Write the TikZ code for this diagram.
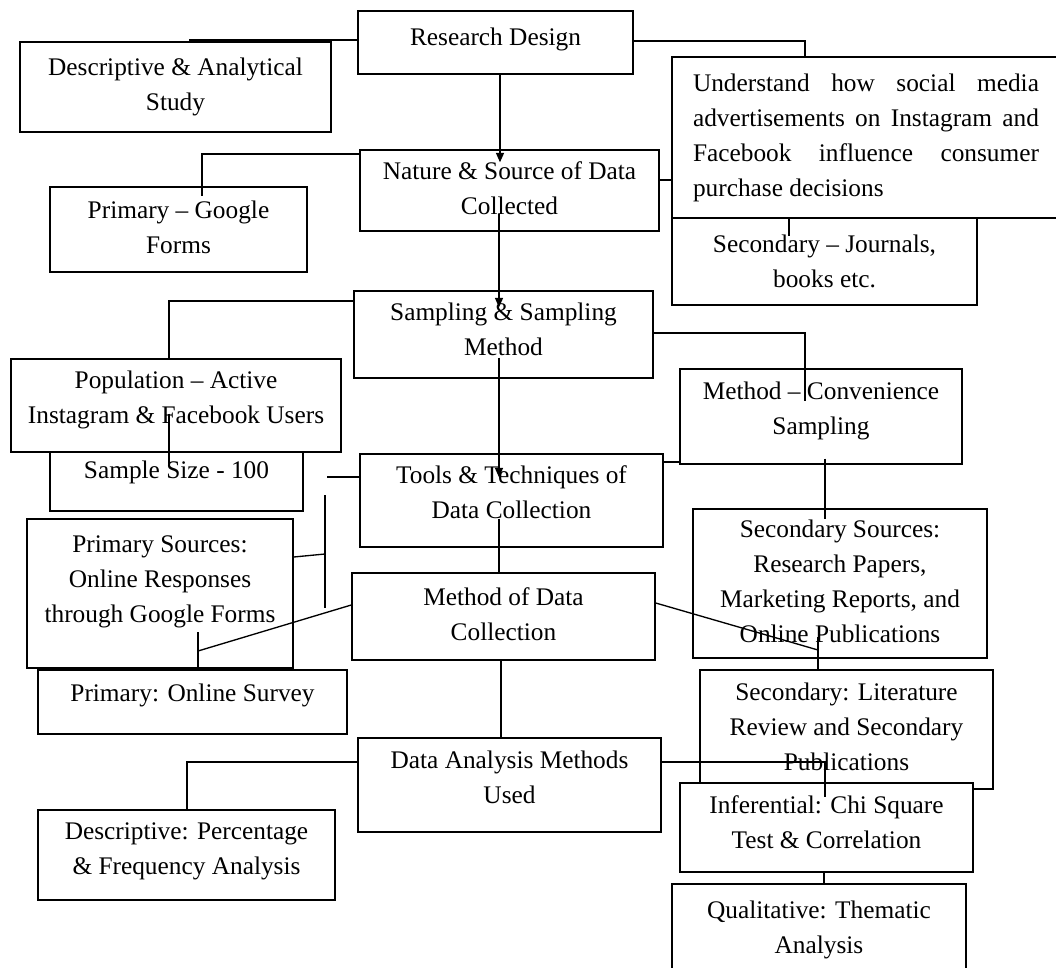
\documentclass[tikz,border=0pt]{standalone}
\usepackage{fontspec}
\setmainfont{Liberation Serif}
\usetikzlibrary{arrows.meta,calc}
\begin{document}
\begin{tikzpicture}[x=0.75pt,y=-0.75pt,
  box/.style={draw=black, line width=1.1pt, fill=white, inner sep=2pt, align=center,
    font=\fontsize{19}{26.25}\selectfont, text depth=4.1pt},
  conn/.style={draw=black, line width=1pt},
  arr/.style={conn, -{Triangle[length=7pt,width=6pt]}}]
\useasboundingbox (0,0) rectangle (1056,967);

% boxes
\node[box, minimum width=206.25pt, minimum height=47.25pt, text depth=9.4pt] (rd) at (495.5,42.5) {Research Design};
\node[box, minimum width=233.25pt, minimum height=67.5pt] (desc) at (175.5,87) {Descriptive \& Analytical\\Study};
\node[box, minimum width=224.25pt, minimum height=60.75pt] (nat) at (509.5,190.5) {Nature \& Source of Data\\Collected};
\node[box, minimum width=192.75pt, minimum height=63.75pt] (pg) at (178.5,229.5) {Primary – Google\\Forms};
\node[box, minimum width=291pt, minimum height=120.75pt, text width=259.5pt, align=justify, text depth={}] (und) at (866,137.5)
  {Understand how social media\linebreak advertisements on Instagram and\linebreak Facebook influence consumer\linebreak purchase decisions};
\node[box, minimum width=228.75pt, minimum height=65.25pt, text depth=0.5pt] (sj) at (824.5,261.5) {Secondary – Journals,\\books etc.};
\node[box, minimum width=224.25pt, minimum height=65.25pt, text depth=7.85pt] (samp) at (503.5,334.5) {Sampling \& Sampling\\Method};
\node[box, minimum width=247.5pt, minimum height=69.75pt, text depth=12.35pt] (pop) at (176,405.5) {Population – Active\\Instagram \& Facebook Users};
\node[box, minimum width=189.75pt, minimum height=44.25pt, text depth=18.35pt] (ss) at (176.5,481.5) {Sample Size - 100};
\node[box, minimum width=227.25pt, minimum height=69.75pt, text depth=12.35pt] (tools) at (511.5,500.5) {Tools \& Techniques of\\Data Collection};
\node[box, minimum width=211.5pt, minimum height=71.25pt, text depth=12.35pt] (mc) at (821,416.5) {Method – Convenience\\Sampling};
\node[box, minimum width=199.5pt, minimum height=111.75pt, text depth=21.35pt] (ps) at (160,593.5) {Primary Sources:\\Online Responses\\through Google Forms};
\node[box, minimum width=220.5pt, minimum height=111.75pt] (ss2) at (840,583.5) {Secondary Sources:\\Research Papers,\\Marketing Reports, and\\Online Publications};
\node[box, minimum width=227.25pt, minimum height=65.25pt] (md) at (503.5,616.5) {Method of Data\\Collection};
\node[box, minimum width=231.75pt, minimum height=48pt, text depth=14.6pt] (os) at (192.5,702) {Primary: Online Survey};
\node[box, minimum width=219.75pt, minimum height=89.25pt] (lit) at (846.5,729.5) {Secondary: Literature\\Review and Secondary\\Publications};
\node[box, minimum width=227.25pt, minimum height=70.5pt, text depth=11.6pt] (da) at (509.5,785) {Data Analysis Methods\\Used};
\node[box, minimum width=222.75pt, minimum height=67.5pt, text depth=10.1pt] (dp) at (186.5,855) {Descriptive: Percentage\\\& Frequency Analysis};
\node[box, minimum width=219.75pt, minimum height=66.75pt, text depth=7.85pt] (inf) at (826.5,827.5) {Inferential: Chi Square\\Test \& Correlation};
\node[box, minimum width=220.5pt, minimum height=68.25pt] (qual) at (819,929.5) {Qualitative: Thematic\\Analysis};

% free ends
\coordinate (ta) at (327,477);
\coordinate (tb1) at (325,495);
\coordinate (tb2) at (325,608);
\coordinate (tc) at (325,554);
\coordinate (td) at (198,651);
\coordinate (te) at (198,632);
\coordinate (tf) at (818,650);
\coordinate (tg) at (818,637);

% connectors
\draw[conn] (rd.west |- 0,40) -| (190,0 |- desc.north);
\draw[conn] (rd.east |- 0,41) -| (805,0 |- und.north);
\draw[arr] (rd.south -| 500,0) -- ($(nat.north -| 500,0)+(0,13)$);
\draw[conn] (nat.west |- 0,154) -| ($(pg.north -| 202,0)+(0,10)$);
\draw[conn] (nat.east |- 0,180) -- (und.west |- 0,180);
\draw[conn] (und.south -| 789,0) -- ($(sj.north -| 789,0)+(0,19)$);
\draw[arr] ($(nat.south -| 499,0)+(0,-18)$) -- ($(samp.north -| 499,0)+(0,17)$);
\draw[conn] (samp.west |- 0,301) -| (169,0 |- pop.north);
\draw[conn] ($(pop.south -| 169,0)+(0,-39)$) -- ($(ss.north -| 169,0)+(0,15)$);
\draw[conn] (samp.east |- 0,333) -| ($(mc.north -| 805,0)+(0,33)$);
\draw[arr] ($(samp.south -| 499,0)+(0,-21)$) -- ($(tools.north -| 499,0)+(0,24)$);
\draw[conn] (tools.west |- ta) -- (ta);
\draw[conn] (tb1) -- (tb2);
\draw[conn] (ps.east |- 0,557) -- (tc);
\draw[conn] (md.west |- 0,605) -- (td);
\draw[conn] (te) -- (os.north -| te);
\draw[conn] (tools.east |- 0,462) -- (mc.west |- 0,462);
\draw[conn] ($(mc.south -| 825,0)+(0,-6)$) -- ($(ss2.north -| 825,0)+(0,11)$);
\draw[conn] ($(tools.south -| 499,0)+(0,-29)$) -- (md.north -| 499,0);
\draw[conn] (md.east |- 0,603) -- (tf);
\draw[conn] (tg) -- (lit.north -| tg);
\draw[conn] (md.south -| 501,0) -- (da.north -| 501,0);
\draw[conn] (da.west |- 0,762) -| (187,0 |- dp.north);
\draw[conn] (da.east |- 0,762) -| ($(inf.north -| 825,0)+(0,15)$);
\draw[conn] (inf.south -| 824,0) -- (qual.north -| 824,0);
\end{tikzpicture}
\end{document}
